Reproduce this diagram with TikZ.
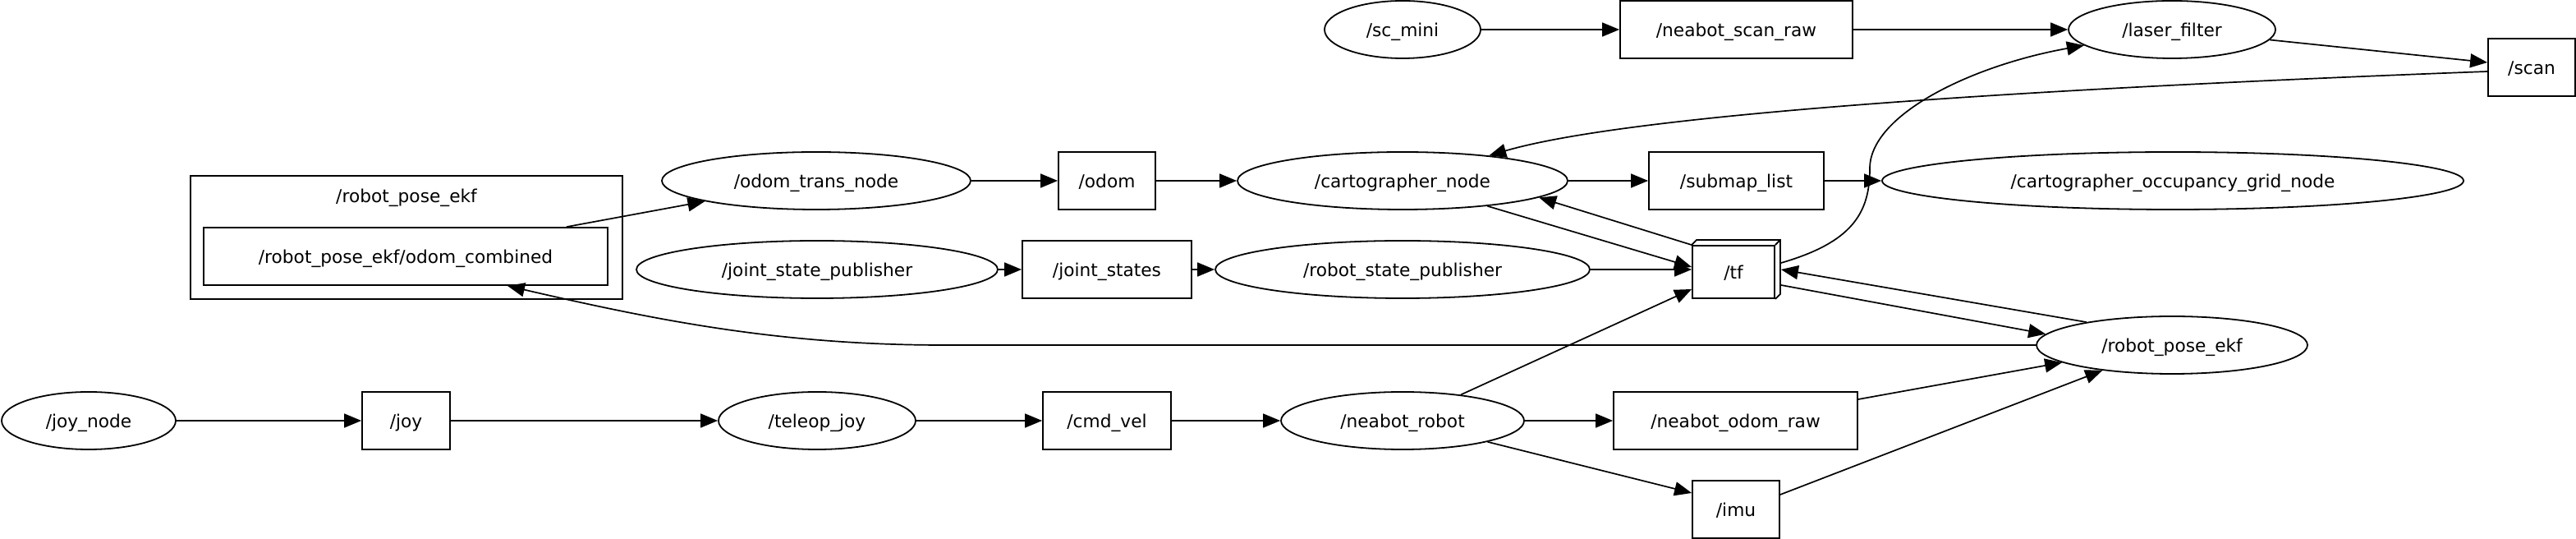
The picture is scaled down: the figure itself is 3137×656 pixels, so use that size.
\documentclass[tikz,border=0pt]{standalone}
\usepackage{fontspec}
\setmainfont{DejaVu Sans}
\usetikzlibrary{shapes.geometric,arrows.meta}
\begin{document}
\begin{tikzpicture}[x=0.5pt,y=-0.5pt,
  every node/.style={font=\fontsize{10.85}{13}\selectfont, inner sep=0pt},
  ell/.style={ellipse, draw, line width=0.9pt, minimum height=35pt, text height=9.5pt, text depth=1.2pt},
  box/.style={rectangle, draw, line width=0.9pt, minimum height=35pt, text height=9.5pt, text depth=1.2pt},
  conn/.style={line width=0.85pt, -{Triangle[length=10.5pt,width=8.5pt]}},
]
\useasboundingbox (0,0) rectangle (3137,656);

% cluster
\node[draw, line width=0.9pt, minimum width=263pt, minimum height=75pt] (cl) at (495,289) {};
\node[text height=9.5pt, text depth=1.2pt] (cllabel) at (495,238) {/robot\_pose\_ekf};

% ellipses
\node[ell, minimum width=95pt]  (sc)   at (1708,36)  {/sc\_mini};
\node[ell, minimum width=126pt] (lf)   at (2645,36)  {/laser\_filter};
\node[ell, minimum width=201pt] (cart) at (1708,220) {/cartographer\_node};
\node[ell, minimum width=354pt] (occ)  at (2646,220) {/cartographer\_occupancy\_grid\_node};
\node[ell, minimum width=188pt] (otn)  at (994,220)  {/odom\_trans\_node};
\node[ell, minimum width=220pt] (jsp)  at (995,328)  {/joint\_state\_publisher};
\node[ell, minimum width=228pt] (rsp)  at (1708,328) {/robot\_state\_publisher};
\node[ell, minimum width=165pt] (rpe)  at (2645,420) {/robot\_pose\_ekf};
\node[ell, minimum width=148pt] (nr)   at (1708,512) {/neabot\_robot};
\node[ell, minimum width=120pt] (tj)   at (995,512)  {/teleop\_joy};
\node[ell, minimum width=106pt] (jn)   at (108,512)  {/joy\_node};

% boxes
\node[box, minimum width=141.5pt] (nsr)  at (2114.5,36)  {/neabot\_scan\_raw};
\node[box, minimum width=53pt]    (scan) at (3083,82)    {/scan};
\node[box, minimum width=59pt]    (odom) at (1348,220)   {/odom};
\node[box, minimum width=106.5pt] (sl)   at (2114.5,220) {/submap\_list};
\node[box, minimum width=103pt]   (js)   at (1348,328)   {/joint\_states};
\node[box, minimum width=50pt, minimum height=32pt] (tf) at (2111,331) {/tf};
\node[box, minimum width=148.5pt] (nor)  at (2113.5,512) {/neabot\_odom\_raw};
\node[box, minimum width=53pt]    (imu)  at (2114,620)   {/imu};
\node[box, minimum width=78pt]    (cv)   at (1348,512)   {/cmd\_vel};
\node[box, minimum width=53.5pt]  (joy)  at (494.5,512)  {/joy};
\node[box, minimum width=246pt]   (oc)   at (494,312)    {/robot\_pose\_ekf/odom\_combined};

% 3d look of /tf
\draw[line width=0.9pt] (tf.north west) -- ([shift={(6,-6)}]tf.north west) -- ([shift={(6,-6)}]tf.north east) -- ([shift={(6,-6)}]tf.south east) -- (tf.south east);
\draw[line width=0.9pt] (tf.north east) -- ([shift={(6,-6)}]tf.north east);

% edges
\draw[conn] (sc) -- (nsr);
\draw[conn] (nsr) -- (lf);
\draw[conn] (lf.-6) -- ([yshift=3pt]scan.west);
\draw[conn] ([yshift=-2.5pt]scan.west) .. controls (2550,105) and (2000,135) .. (cart);
\draw[conn] (otn) -- (odom);
\draw[conn] (odom) -- (cart);
\draw[conn] (cart) -- (sl);
\draw[conn] (sl) -- (occ);
\draw[conn] (cart) -- ([yshift=3pt]tf.west);
\draw[conn] (tf.north west) -- (cart.-7);
\draw[conn] ([shift={(7,-11)}]tf.east) .. controls (2255,295) and (2277,260) .. (2277,205) .. controls (2277,140) and (2400,80) .. (lf);
\draw[conn] (rsp) -- (rsp -| tf.west);
\draw[conn] (jsp) -- (js);
\draw[conn] (js) -- (rsp);
\draw[conn] (nr.24) -- ([yshift=-10.5pt]tf.west);
\draw[conn] ([shift={(7,16)}]tf.east) -- (rpe.175);
\draw[conn] (rpe.165) -- ([shift={(7,-3)}]tf.east);
\draw[conn] (rpe.west) -- (1150,420) .. controls (950,420) and (800,390) .. ([xshift=62pt]oc.south);
\draw[conn] ([xshift=98pt]oc.north) -- (otn);
\draw[conn] (jn) -- (joy);
\draw[conn] (joy) -- (tj);
\draw[conn] (tj) -- (cv);
\draw[conn] (cv) -- (nr);
\draw[conn] (nr) -- (nor);
\draw[conn] (nr.-14) -- ([yshift=10pt]imu.west);
\draw[conn] ([yshift=13pt]nor.east) -- (rpe.189);
\draw[conn] ([yshift=9pt]imu.east) -- (rpe.200);
\end{tikzpicture}
\end{document}
